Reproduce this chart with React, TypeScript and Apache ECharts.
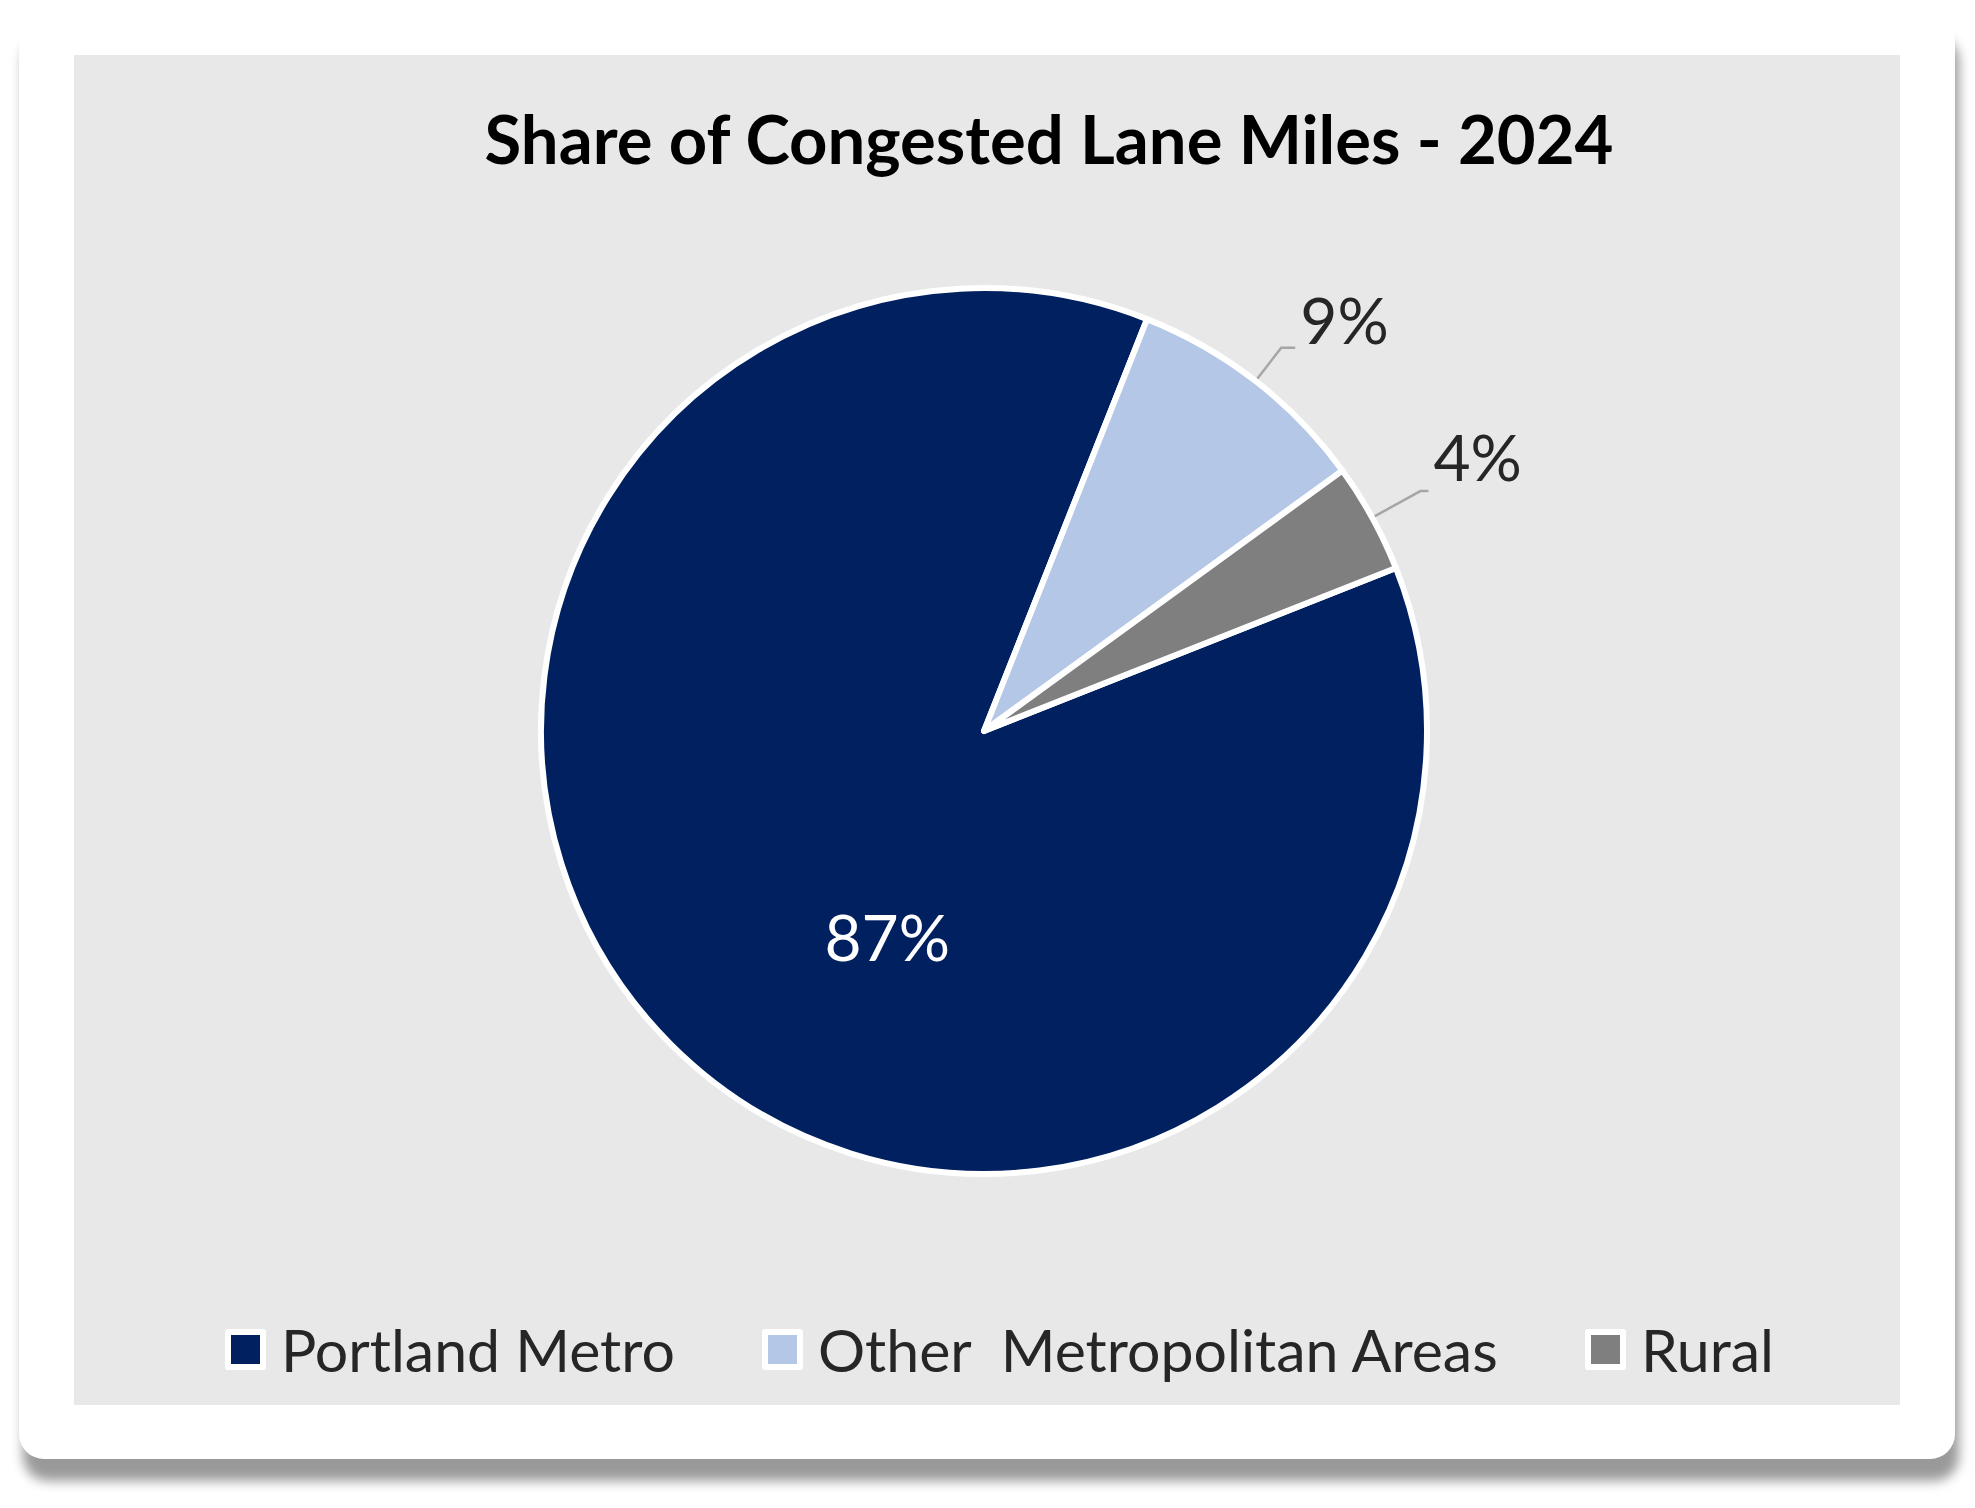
import React, { useEffect, useRef } from "react";
import * as echarts from "echarts";

const TITLE = "Share of Congested Lane Miles - 2024";
const categories = ["Portland Metro", "Other  Metropolitan Areas", "Rural"];
const shares = [87, 9, 4];
const colors = ["#002060", "#B4C7E7", "#7F7F7F"];

const FONT = "Lato, 'Open Sans', sans-serif";

export default function App() {
  const ref = useRef<HTMLDivElement>(null);

  useEffect(() => {
    if (!ref.current) return;
    const chart = echarts.init(ref.current, undefined, { renderer: "svg" });

    const legendLeft = [225, 762, 1585];
    // per-slice label tuning (layout only): outside labels sit above the end of their leader line
    const labelTune = [
      { label: { position: "inside", color: "#FFFFFF", formatter: "{c}%" } },
      { label: { lineHeight: 56, formatter: "{c}%\n" }, labelLine: { length: 42, length2: 14 } },
      { label: { lineHeight: 70, formatter: "{c}%\n" }, labelLine: { length: 55, length2: 8 } },
    ];

    const data = categories.map((name, i) => ({
      name,
      value: shares[i],
      itemStyle: { color: colors[i] },
      ...labelTune[i],
    }));

    chart.setOption({
      animation: false,
      backgroundColor: "transparent",
      title: {
        text: TITLE,
        left: 1049,
        top: 104,
        textAlign: "center",
        padding: 0,
        textStyle: { fontFamily: FONT, fontWeight: "bold", fontSize: 67, color: "#000000" },
      },
      legend: categories.map((name, i) => ({
        data: [name],
        left: legendLeft[i],
        top: 1320,
        padding: 0,
        itemWidth: 35,
        itemHeight: 35,
        icon: "rect",
        selectedMode: false,
        itemStyle: { borderColor: "#FFFFFF", borderWidth: 6, borderJoin: "round" },
        textStyle: { fontFamily: FONT, fontSize: 59, color: "#262626", padding: [0, 0, 0, 13] },
      })),
      series: [
        {
          type: "pie",
          center: [984, 731],
          radius: 443,
          startAngle: 21.6,
          clockwise: true,
          avoidLabelOverlap: false,
          silent: true,
          itemStyle: { borderColor: "#FFFFFF", borderWidth: 6 },
          label: {
            show: true,
            position: "outside",
            alignTo: "none",
            formatter: "{c}%",
            fontFamily: FONT,
            fontSize: 64,
            color: "#262626",
          },
          labelLine: {
            show: true,
            smooth: false,
            lineStyle: { color: "#A6A6A6", width: 2.5 },
          },
          labelLayout: (params: any) =>
            params.dataIndex === 0 ? { dx: 62, dy: 47 } : {},
          data,
        },
      ],
    });

    return () => chart.dispose();
  }, []);

  return (
    <div
      style={{
        position: "fixed",
        left: 0,
        top: 0,
        width: 1975,
        height: 1508,
        background: "#FFFFFF",
        overflow: "hidden",
      }}
    >
      <div
        style={{
          position: "absolute",
          left: 19,
          top: 14,
          width: 1936,
          height: 1445,
          borderRadius: 25,
          background: "#FFFFFF",
          boxShadow: "4px 22px 12px rgba(0,0,0,0.4)",
        }}
      />
      <div
        style={{
          position: "absolute",
          left: 74,
          top: 55,
          width: 1826,
          height: 1350,
          background: "#E8E8E8",
        }}
      />
      <div
        ref={ref}
        style={{ position: "absolute", left: 0, top: 0, width: 1975, height: 1508 }}
      />
    </div>
  );
}
